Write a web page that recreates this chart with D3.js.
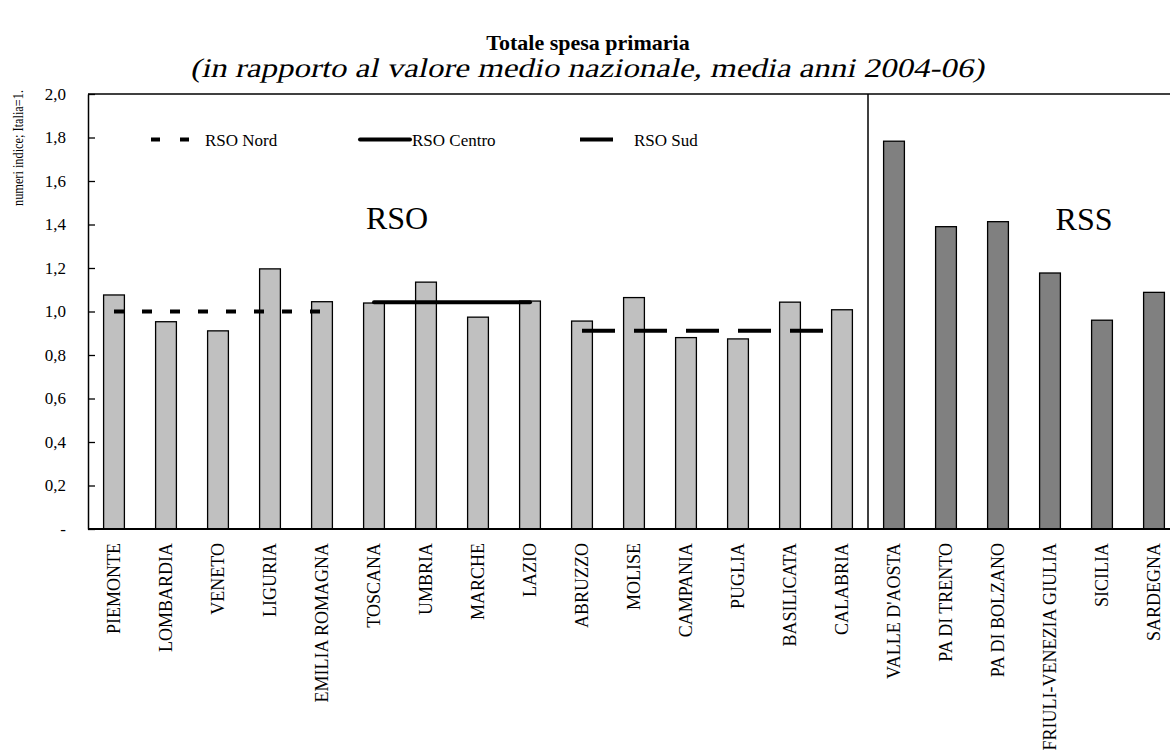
<!DOCTYPE html>
<html>
<head>
<meta charset="utf-8">
<script src="https://cdn.jsdelivr.net/npm/d3@7/dist/d3.min.js"></script>
<style>
  body { margin: 0; background: #fff; }
  svg { display: block; font-family: "Liberation Serif", "Times New Roman", serif; }
</style>
</head>
<body>
<script>
// regions, grouped as in the source chart
const regions = [
  "PIEMONTE", "LOMBARDIA", "VENETO", "LIGURIA", "EMILIA ROMAGNA",
  "TOSCANA", "UMBRIA", "MARCHE", "LAZIO",
  "ABRUZZO", "MOLISE", "CAMPANIA", "PUGLIA", "BASILICATA", "CALABRIA",
  "VALLE D'AOSTA", "PA DI TRENTO", "PA DI BOLZANO", "FRIULI-VENEZIA GIULIA", "SICILIA", "SARDEGNA"
];
const values = [
  1.076, 0.953, 0.911, 1.196, 1.045,
  1.039, 1.135, 0.974, 1.048,
  0.956, 1.064, 0.880, 0.874, 1.043, 1.008,
  1.783, 1.390, 1.413, 1.177, 0.960, 1.088
];
const groups = [
  "RSO", "RSO", "RSO", "RSO", "RSO",
  "RSO", "RSO", "RSO", "RSO",
  "RSO", "RSO", "RSO", "RSO", "RSO", "RSO",
  "RSS", "RSS", "RSS", "RSS", "RSS", "RSS"
];
// average lines for the ordinary statute regions
const avgNames = ["RSO Nord", "RSO Centro", "RSO Sud"];
const avgValues = [1.0, 1.042, 0.912];
const avgFrom = ["PIEMONTE", "TOSCANA", "ABRUZZO"];
const avgTo = ["EMILIA ROMAGNA", "LAZIO", "CALABRIA"];
const yTicks = [0, 0.2, 0.4, 0.6, 0.8, 1.0, 1.2, 1.4, 1.6, 1.8, 2.0];

const width = 1170, height = 751;
const margin = { top: 94, right: -10, bottom: 222, left: 88 };

const svg = d3.select('body').append('svg')
  .attr('width', width)
  .attr('height', height);

const x = d3.scaleBand()
  .domain(regions)
  .range([margin.left, width - margin.right])
  .paddingInner(0.6)
  .paddingOuter(0.3);

const y = d3.scaleLinear()
  .domain([0, 2])
  .range([height - margin.bottom, margin.top]);

const cx = name => x(name) + x.bandwidth() / 2;

// titles
svg.append('text')
  .attr('x', 588).attr('y', 50)
  .attr('text-anchor', 'middle')
  .attr('font-size', 22).attr('font-weight', 'bold')
  .text('Totale spesa primaria');
// subtitle: regular face slanted by hand, the serif italic is not always there
svg.append('text')
  .attr('transform', 'translate(190,77) skewX(-13)')
  .attr('font-size', 27)
  .attr('textLength', 794).attr('lengthAdjust', 'spacingAndGlyphs')
  .text('(in rapporto al valore medio nazionale, media anni 2004-06)');

// bars
svg.selectAll('rect.bar').data(regions)
  .join('rect')
  .attr('class', 'bar')
  .attr('x', d => x(d))
  .attr('width', x.bandwidth())
  .attr('y', (d, i) => y(values[i]))
  .attr('height', (d, i) => y(0) - y(values[i]))
  .attr('fill', (d, i) => groups[i] === 'RSO' ? '#c0c0c0' : '#808080')
  .attr('stroke', '#000')
  .attr('stroke-width', 1.3);

// average lines
const avgStyles = [
  { dash: '10,18', cap: 'butt' },
  { dash: null, cap: 'round' },
  { dash: '33,19', cap: 'butt' }
];
avgNames.forEach((name, i) => {
  svg.append('line')
    .attr('x1', cx(avgFrom[i])).attr('x2', cx(avgTo[i]))
    .attr('y1', y(avgValues[i])).attr('y2', y(avgValues[i]))
    .attr('stroke', '#000')
    .attr('stroke-width', 4)
    .attr('stroke-linecap', avgStyles[i].cap)
    .attr('stroke-dasharray', avgStyles[i].dash);
});

// legend
const legendY = y(1.8) + 2;
const legendPos = [
  { x1: 151, x2: 189, tx: 205, dash: '9,20' },
  { x1: 360, x2: 410, tx: 412, dash: null },
  { x1: 580, x2: 613, tx: 634, dash: null }
];
avgNames.forEach((name, i) => {
  const p = legendPos[i];
  svg.append('line')
    .attr('x1', p.x1).attr('x2', p.x2)
    .attr('y1', legendY).attr('y2', legendY)
    .attr('stroke', '#000').attr('stroke-width', 4)
    .attr('stroke-linecap', avgStyles[i].cap)
    .attr('stroke-dasharray', p.dash);
  svg.append('text')
    .attr('x', p.tx).attr('y', legendY + 6)
    .attr('font-size', 17)
    .text(name);
});

// group labels
svg.append('text').attr('x', 397).attr('y', 229)
  .attr('text-anchor', 'middle').attr('font-size', 32).text('RSO');
svg.append('text').attr('x', 1084).attr('y', 230)
  .attr('text-anchor', 'middle').attr('font-size', 32).text('RSS');

// plot frame
const right = width - margin.right;
svg.append('line')
  .attr('x1', margin.left).attr('x2', right)
  .attr('y1', y(2)).attr('y2', y(2))
  .attr('stroke', '#000').attr('stroke-width', 1.5);

// separator between RSO and RSS
const sep = x("VALLE D'AOSTA") - x.step() * x.paddingInner() / 2;
svg.append('line')
  .attr('x1', sep).attr('x2', sep)
  .attr('y1', y(2)).attr('y2', y(0))
  .attr('stroke', '#000').attr('stroke-width', 1.5);

// y axis (ticks point inward)
const yAxis = svg.append('g')
  .attr('transform', `translate(${margin.left},0)`)
  .call(d3.axisLeft(y)
    .tickValues(yTicks)
    .tickSizeInner(-7)
    .tickSizeOuter(0)
    .tickFormat(d => d === 0 ? '-' : d3.format('.1f')(d).replace('.', ',')));
yAxis.select('.domain').attr('stroke-width', 1.5);
yAxis.selectAll('.tick line').attr('stroke-width', 1.3);
yAxis.selectAll('.tick text')
  .attr('x', -22)
  .attr('font-family', '"Liberation Serif", serif')
  .attr('font-size', 17).attr('fill', '#000');

// x axis
const xAxis = svg.append('g')
  .attr('transform', `translate(0,${y(0)})`)
  .call(d3.axisBottom(x).tickSize(0));
xAxis.select('.domain').attr('stroke-width', 2).attr('d', `M${margin.left},0H${right}`);
xAxis.selectAll('.tick text')
  .attr('font-family', '"Liberation Serif", serif')
  .attr('font-size', 18).attr('fill', '#000')
  .attr('text-anchor', 'end')
  .attr('dy', '0.35em')
  .attr('transform', 'translate(0,14) rotate(-90)')
  .attr('x', 0).attr('y', 0);

// y axis title
svg.append('text')
  .attr('transform', 'translate(23,90) rotate(-90)')
  .attr('text-anchor', 'end')
  .attr('font-size', 15)
  .attr('textLength', 116).attr('lengthAdjust', 'spacingAndGlyphs')
  .text('numeri indice; Italia=1.');
</script>
</body>
</html>
